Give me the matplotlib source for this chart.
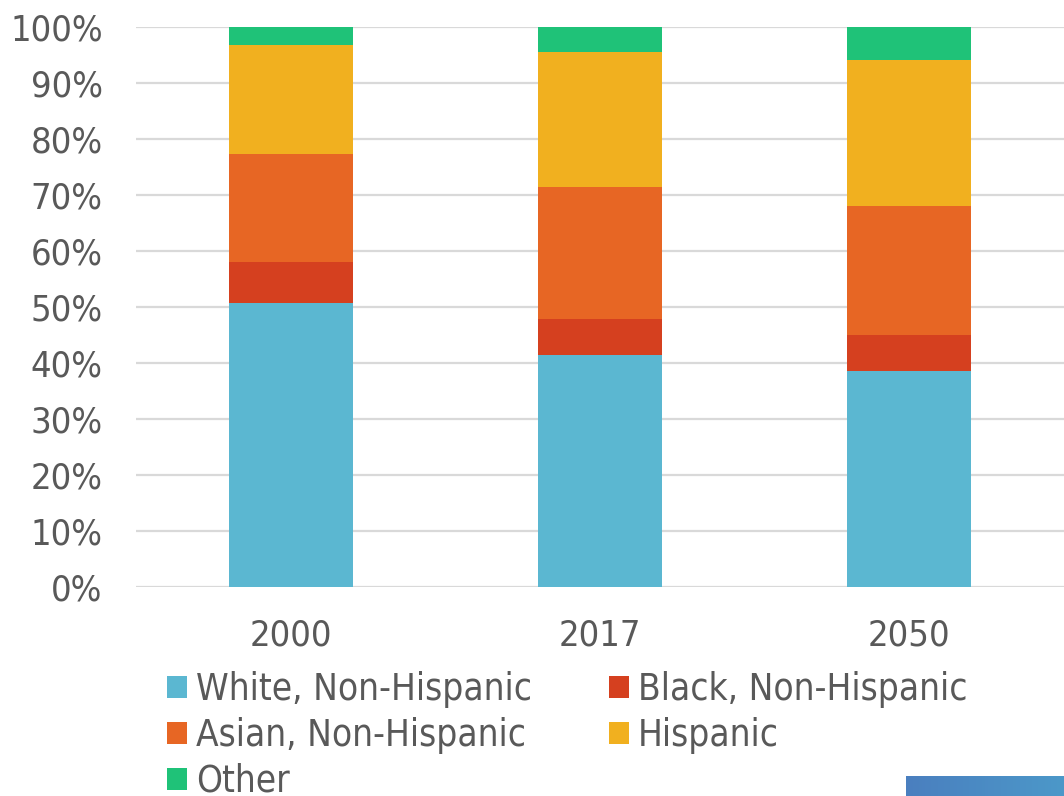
import matplotlib
matplotlib.use("Agg")
import matplotlib.pyplot as plt
import numpy as np
from matplotlib.patches import Patch
from matplotlib.colors import LinearSegmentedColormap

years = ["2000", "2017", "2050"]
series = ["White, Non-Hispanic", "Black, Non-Hispanic", "Asian, Non-Hispanic", "Hispanic", "Other"]
white = [50.7, 41.4, 38.5]
black = [7.3, 6.35, 6.4]
asian = [19.3, 23.65, 23.1]
hispanic = [19.4, 24.1, 26.05]
other = [3.3, 4.5, 5.95]
yticks = [0, 10, 20, 30, 40, 50, 60, 70, 80, 90, 100]

colors = ["#5bb7d1", "#d5401f", "#e76624", "#f1b01f", "#1fc278"]
values = [white, black, asian, hispanic, other]

plt.rcParams["font.family"] = ["DejaVu Sans"]
plt.rcParams["font.stretch"] = "condensed"
txt = "#595959"

fig = plt.figure(figsize=(10.64, 7.96), dpi=100)
ax = fig.add_axes([136/1064, 1-586.7/796, 1-136/1064, 560/796])
x = np.arange(len(years))
bottom = np.zeros(len(years))
handles = []
for name, vals, c in zip(series, values, colors):
    ax.bar(x, vals, width=0.4, bottom=bottom, color=c, zorder=3)
    bottom += np.array(vals)
    handles.append(Patch(facecolor=c, label=name))

ax.set_xlim(-0.5, 2.5)
ax.set_ylim(0, 100)
ax.set_yticks(yticks)
ax.set_yticklabels([f"{v}%" for v in yticks])
ax.set_xticks(x)
ax.set_xticklabels(years)
ax.yaxis.grid(True, color="#d9d9d9", linewidth=1.6, zorder=0)
ax.set_axisbelow(True)
for s in ["top", "right", "left", "bottom"]:
    ax.spines[s].set_visible(False)
ax.tick_params(axis="both", length=0, labelsize=26, colors=txt)
ax.tick_params(axis="y", pad=24)
ax.tick_params(axis="x", pad=23)

order = [0, 2, 4, 1, 3]
leg = fig.legend([handles[i] for i in order], [series[i] for i in order],
                 loc="upper left", bbox_to_anchor=(167/1064, 1-671/796), ncol=2,
                 frameon=False, fontsize=26.5, handlelength=0.54, handleheight=0.54,
                 handletextpad=0.245, columnspacing=2.09, labelspacing=0.24,
                 borderaxespad=0, borderpad=0)
for t in leg.get_texts():
    t.set_color(txt)

# decorative gradient bar bottom-right
gax = fig.add_axes([906/1064, 0, 1-906/1064, 20/796])
grad = np.linspace(0, 1, 256).reshape(1, -1)
cm = LinearSegmentedColormap.from_list("g", ["#4a7fbf", "#4c98c9"])
gax.imshow(grad, aspect="auto", cmap=cm)
gax.axis("off")

fig.savefig("out.png", dpi=100)
